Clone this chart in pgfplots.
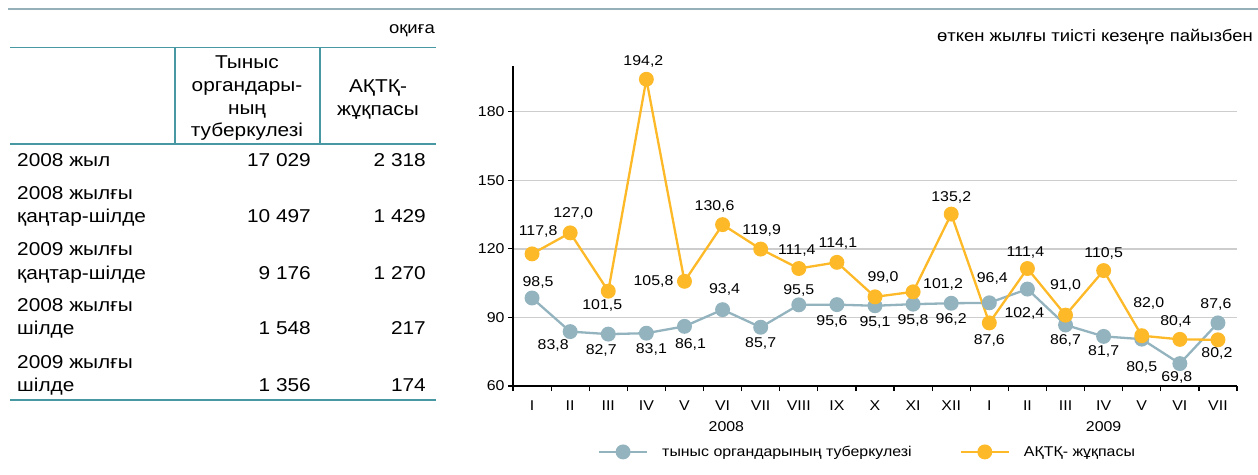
\documentclass[border=0pt]{standalone}
\usepackage{fontspec}
\setmainfont[FakeStretch=1.12]{Liberation Sans}
\usepackage{pgfplots}
\pgfplotsset{compat=1.18}
\usepackage{pgfplotstable}
\definecolor{tbc}{RGB}{147,179,191}
\definecolor{hivc}{RGB}{253,185,39}
\definecolor{tabline}{RGB}{72,152,163}
\definecolor{topline}{RGB}{150,176,186}
\definecolor{gridc}{RGB}{205,205,205}
\newcommand{\fs}{\fontsize{14.2}{16}\selectfont}
\newcommand{\fh}{\fontsize{16.5}{19}\selectfont}
\newcommand{\fl}{\fontsize{18.6}{23}\selectfont}

\pgfplotstableread{
x y lbl dx dy
0 98.5 98,5 6 16
1 83.8 83,8 -17 -14
2 82.7 82,7 -7 -16
3 83.1 83,1 5 -16
4 86.1 86,1 6 -18
5 93.4 93,4 2 20
6 85.7 85,7 0 -16
7 95.5 95,5 0 14
8 95.6 95,6 -5 -17
9 95.1 95,1 0 -17
10 95.8 95,8 0 -16
11 96.2 96,2 0 -16
12 96.4 96,4 3 24
13 102.4 102,4 -3 -24
14 86.7 86,7 0 -15
15 81.7 81,7 0 -15
16 80.5 80,5 0 -28
17 69.8 69,8 -3 -14
18 87.6 87,6 -2 18
}\tbdata

\pgfplotstableread{
x y lbl dx dy
0 117.8 117,8 6 22
1 127.0 127,0 3 19
2 101.5 101,5 -6 -14
3 194.2 194,2 -3 18
4 105.8 105,8 -31 0
5 130.6 130,6 -8 18
6 119.9 119,9 1 19
7 111.4 111,4 -2 18
8 114.1 114,1 1 19
9 99.0 99,0 8 19
10 101.2 101,2 30 7
11 135.2 135,2 0 17
12 87.6 87,6 0 -18
13 111.4 111,4 -2 16
14 91.0 91,0 0 30
15 110.5 110,5 0 17
16 82.0 82,0 7 32
17 80.4 80,4 -4 18
18 80.2 80,2 -1 -14
}\hivdata

\begin{document}
\begin{tikzpicture}[x=1pt,y=1pt]
\useasboundingbox (0,0) rectangle (1258,474);
% top rule
\draw[topline, line width=1.2pt] (8,465) -- (1258,465);
% table
\node[anchor=east, font=\fh, inner sep=0pt] at (435,443) {оқиға};
\draw[tabline, line width=1.8pt] (10,426.5) -- (436,426.5);
\draw[tabline, line width=1.8pt] (10,330) -- (436,330);
\draw[tabline, line width=1.5pt] (175,426.5) -- (175,330);
\draw[tabline, line width=1.5pt] (320,426.5) -- (320,330);
\draw[tabline, line width=1.8pt] (10,74) -- (436,74);
\begin{scope}[every node/.style={font=\fl, inner sep=0pt}]
\node[anchor=base] at (247,405) {Тыныс};
\node[anchor=base] at (247,382) {органдары-};
\node[anchor=base] at (247,359) {ның};
\node[anchor=base] at (247,337) {туберкулезі};
\node[anchor=base] at (378,381) {АҚТҚ-};
\node[anchor=base] at (378,358) {жұқпасы};
% rows
\node[anchor=base west] at (17,307.5) {2008 жыл};
\node[anchor=base east] at (311,307.5) {17 029};
\node[anchor=base east] at (426,307.5) {2 318};
\node[anchor=base west] at (17,274.5) {2008 жылғы};
\node[anchor=base west] at (17,251.5) {қаңтар-шілде};
\node[anchor=base east] at (311,251.5) {10 497};
\node[anchor=base east] at (426,251.5) {1 429};
\node[anchor=base west] at (17,218.5) {2009 жылғы};
\node[anchor=base west] at (17,194.5) {қаңтар-шілде};
\node[anchor=base east] at (311,194.5) {9 176};
\node[anchor=base east] at (426,194.5) {1 270};
\node[anchor=base west] at (17,162.5) {2008 жылғы};
\node[anchor=base west] at (17,139.5) {шілде};
\node[anchor=base east] at (311,139.5) {1 548};
\node[anchor=base east] at (426,139.5) {217};
\node[anchor=base west] at (17,105.5) {2009 жылғы};
\node[anchor=base west] at (17,82.5) {шілде};
\node[anchor=base east] at (311,82.5) {1 356};
\node[anchor=base east] at (426,82.5) {174};
\end{scope}
% chart title
\node[anchor=east, font=\fh, inner sep=0pt] at (1253,437) {өткен жылғы тиісті кезеңге пайызбен};

\begin{axis}[
  at={(513pt,88pt)}, anchor=south west,
  scale only axis, width=724pt, height=320pt,
  xmin=-0.5, xmax=18.5, ymin=60, ymax=200,
  clip=false,
  axis x line*=bottom, axis y line*=left,
  axis line style={black, line width=1.2pt, -},
  ytick={60,90,120,150,180},
  ymajorgrids, grid style={gridc, line width=1.3pt},
  xtick={0,...,18},
  xticklabels={I,II,III,IV,V,VI,VII,VIII,IX,X,XI,XII,I,II,III,IV,V,VI,VII},
  minor xtick={-0.5,0.5,...,18.5},
  tick align=outside, major tick length=5pt, minor tick length=5pt,
  major x tick style={draw=none},
  minor x tick style={black, line width=1.2pt},
  y tick style={black, line width=1.2pt},
  tick label style={font=\fs},
  xticklabel style={yshift=-6pt},
  /pgf/number format/assume math mode=true,
  legend style={at={(0.117,-0.206)}, anchor=west, draw=none, fill=none,
    font=\fs, inner sep=0pt, legend columns=2,
    /tikz/every odd column/.append style={column sep=12pt},
    /tikz/every even column/.append style={column sep=46pt}},
  legend image code/.code={\draw[mark repeat=2,mark phase=2,#1] plot coordinates {(0pt,0pt) (24pt,0pt) (48pt,0pt)};},
  every node near coord/.append style={font=\fs, text=black, inner sep=0pt},
]
\addplot[tbc, line width=2.3pt, mark=*, mark size=6.3pt,
  mark options={solid, fill=tbc, draw=tbc},
  point meta=explicit symbolic, nodes near coords,
  visualization depends on={\thisrow{dx} \as \ddx},
  visualization depends on={\thisrow{dy} \as \ddy},
  every node near coord/.append style={anchor=center, xshift=\ddx pt, yshift=\ddy pt}]
  table[x=x, y=y, meta=lbl]{\tbdata};
\addlegendentry{тыныс органдарының туберкулезі}
\addplot[hivc, line width=2.3pt, mark=*, mark size=6.3pt,
  mark options={solid, fill=hivc, draw=hivc},
  point meta=explicit symbolic, nodes near coords,
  visualization depends on={\thisrow{dx} \as \ddx},
  visualization depends on={\thisrow{dy} \as \ddy},
  every node near coord/.append style={anchor=center, xshift=\ddx pt, yshift=\ddy pt}]
  table[x=x, y=y, meta=lbl]{\hivdata};
\addlegendentry{АҚТҚ- жұқпасы}
\node[font=\fs] at (axis cs:5.1,60) [yshift=-41pt] {2008};
\node[font=\fs] at (axis cs:15,60) [yshift=-41pt] {2009};
\end{axis}
\end{tikzpicture}
\end{document}
